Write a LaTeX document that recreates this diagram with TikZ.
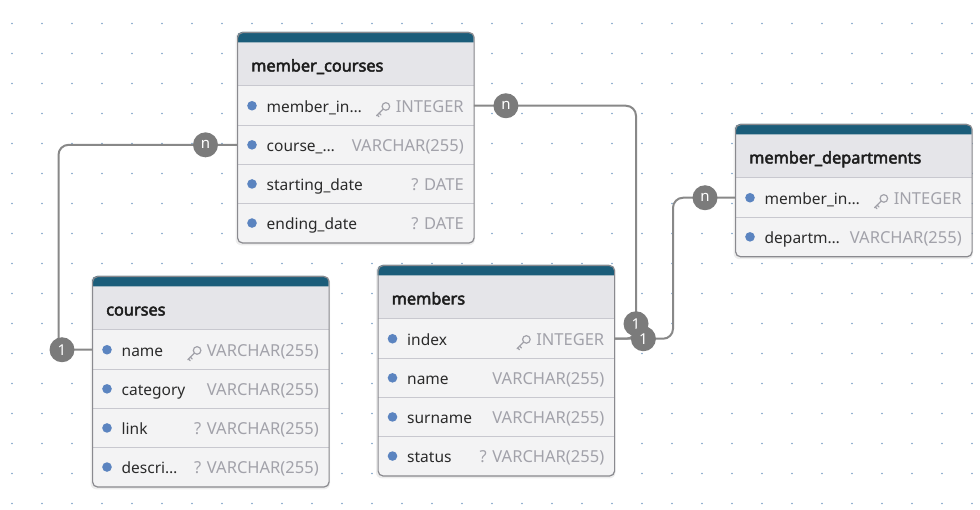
\documentclass[tikz,border=0pt]{standalone}
\usepackage{fontspec}
\setmainfont{Noto Sans}
\newfontfamily\titlefont{Noto Sans}[AutoFakeBold=3]
\usetikzlibrary{calc}
\definecolor{tealc}{HTML}{1B5D7A}
\definecolor{headfill}{HTML}{E5E5E9}
\definecolor{rowfill}{HTML}{F3F3F4}
\definecolor{sepcol}{HTML}{C8C8CF}
\definecolor{tborder}{HTML}{8A8A8F}
\definecolor{bulletc}{HTML}{5B84C0}
\definecolor{typetext}{HTML}{A2A2AA}
\definecolor{ftext}{HTML}{2A2A2A}
\definecolor{titletext}{HTML}{1E1E1E}
\definecolor{conncol}{HTML}{888888}
\definecolor{badgecol}{HTML}{7B7B7B}
\definecolor{dotcol}{HTML}{7FA3C8}
\tikzset{
  x=1pt, y=-1pt,
  tframe/.style={draw=tborder, line width=1.2pt, rounded corners=5pt, inner sep=0pt, anchor=north west, minimum width=236.5pt},
  rowbox/.style={minimum width=236.5pt, minimum height=39.1pt, inner sep=0pt, anchor=north west},
  fname/.style={anchor=west, inner sep=0pt, yshift=-2.5pt, text=ftext, text height=11.5pt, text depth=3.5pt, font=\fontsize{15.5}{18}\selectfont},
  ftype/.style={anchor=east, inner sep=0pt, yshift=-2.5pt, text=typetext, text height=11.5pt, text depth=3.5pt, font=\fontsize{16.5}{18}\selectfont},
  ttitle/.style={anchor=west, inner sep=0pt, yshift=-3pt, text=titletext, text height=11.5pt, text depth=3.5pt, font=\fontsize{16.3}{18}\titlefont\bfseries},
  badge/.style={circle, fill=badgecol, text=white, minimum size=25pt, inner sep=0pt, font=\fontsize{15}{16}\selectfont},
  conn/.style={draw=conncol, line width=2pt, rounded corners=10pt},
  keyicon/.pic={
    \draw[typetext, line width=1.2pt] (3.3,-3.3) circle (3.8);
    \draw[typetext, line width=1.2pt, line cap=round] (0.6,-0.6) -- (-6,6);
    \draw[typetext, line width=1.2pt, line cap=round] (-3.4,3.4) -- (-1.6,5.2);
    \draw[typetext, line width=1.2pt, line cap=round] (-5.3,5.3) -- (-3.7,6.9);
  }
}
% #1 id, #2 x, #3 y, #4 title, #5 number of rows
\newcommand\mktable[5]{%
  \pgfmathsetmacro\tabH{54+39.1*#5}%
  \fill[black, opacity=0.07, rounded corners=6pt] (#2-1.5,#3) rectangle ++(239.5,\tabH+3);
  \fill[rowfill, rounded corners=5pt] (#2,#3) rectangle ++(236.5,\tabH);
  \fill[headfill] (#2,#3+10.5) rectangle ++(236.5,43.5);
  \fill[tealc] (#2,#3+10.5) [rounded corners=5pt] -- (#2,#3) -- (#2+236.5,#3) [sharp corners] -- (#2+236.5,#3+10.5) -- cycle;
  \node[ttitle] (#1-t) at (#2+14,#3+32.5) {#4};
  \foreach \k in {1,...,#5}{
    \node[rowbox] (#1-\k) at (#2,#3+54+39.1*\k-39.1) {};
    \draw[sepcol, line width=1pt] (#1-\k.north west) -- (#1-\k.north east);
  }
  \node[tframe, minimum height=\tabH pt] (#1) at (#2,#3) {};
}
% #1 row id, #2 name, #3 type, #4 key (1) or not (0)
\newcommand\mkrow[4]{%
  \fill[bulletc] ([xshift=15pt]#1.west) circle (4.8);
  \node[fname] (#1-n) at ([xshift=29.5pt]#1.west) {#2};
  \node[ftype] (#1-ty) at ([xshift=-10pt]#1.east) {#3};
  \ifnum#4=1 \pic at ([xshift=-13pt,yshift=-1.5pt]#1-ty.west) {keyicon};\fi
}
\begin{document}
\begin{tikzpicture}
\useasboundingbox (0,0) rectangle (980,510);
\fill[white] (0,0) rectangle (980,510);
\foreach \i in {0,...,32}{\foreach \j in {0,...,16}{\fill[dotcol] (12+30*\i,23.5+30*\j) circle (0.9);}}

% tables
\mktable{mc}{237}{32}{member\_courses}{4}
\mkrow{mc-1}{member\_in…}{INTEGER}{1}
\mkrow{mc-2}{course\_…}{VARCHAR(255)}{0}
\mkrow{mc-3}{starting\_date}{? DATE}{0}
\mkrow{mc-4}{ending\_date}{? DATE}{0}

\mktable{cs}{92}{276}{courses}{4}
\mkrow{cs-1}{name}{VARCHAR(255)}{1}
\mkrow{cs-2}{category}{VARCHAR(255)}{0}
\mkrow{cs-3}{link}{? VARCHAR(255)}{0}
\mkrow{cs-4}{descri…}{? VARCHAR(255)}{0}

\mktable{mem}{377.5}{265}{members}{4}
\mkrow{mem-1}{index}{INTEGER}{1}
\mkrow{mem-2}{name}{VARCHAR(255)}{0}
\mkrow{mem-3}{surname}{VARCHAR(255)}{0}
\mkrow{mem-4}{status}{? VARCHAR(255)}{0}

\mktable{md}{735}{124}{member\_departments}{2}
\mkrow{md-1}{member\_in…}{INTEGER}{1}
\mkrow{md-2}{departm…}{VARCHAR(255)}{0}

% connectors
\coordinate (k1) at (58.5,0);
\coordinate (k2) at (636,0);
\coordinate (k3) at (673,0);
\coordinate (j2) at (mem-1.east -| k2);
\draw[conn] (cs-1.west) -- (cs-1.west -| k1) |- (mc-2.west);
\draw[conn] (mem-1.east) -- (j2) |- (mc-1.east);
\draw[conn] (mem-1.east) -- (mem-1.east -| k3) |- (md-1.west);

% badges
\node[badge] (b1) at ([xshift=-30pt]cs-1.west) {1};
\node[badge] (b2) at ([xshift=-31.5pt]mc-2.west) {n};
\node[badge] (b3) at ([xshift=32pt]mc-1.east) {n};
\node[badge] (b4) at ([yshift=15pt]j2) {1};
\node[badge] (b5) at ([xshift=29pt]mem-1.east) {1};
\node[badge] (b6) at ([xshift=-30pt]md-1.west) {n};
\end{tikzpicture}
\end{document}
